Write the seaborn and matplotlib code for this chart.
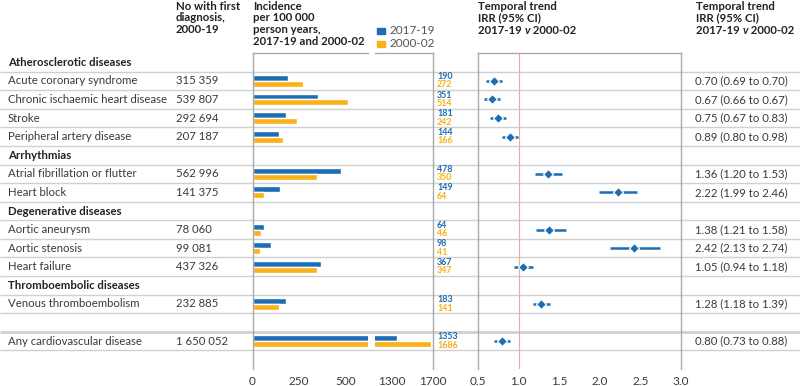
import numpy as np
import pandas as pd
import matplotlib
matplotlib.use("Agg")
import matplotlib.pyplot as plt
from matplotlib.patches import Rectangle
import seaborn as sns

# table rows, top to bottom
row_labels = [
    "Atherosclerotic diseases", "Acute coronary syndrome", "Chronic ischaemic heart disease",
    "Stroke", "Peripheral artery disease", "Arrhythmias", "Atrial fibrillation or flutter",
    "Heart block", "Degenerative diseases", "Aortic aneurysm", "Aortic stenosis",
    "Heart failure", "Thromboembolic diseases", "Venous thromboembolism", "",
    "Any cardiovascular disease",
]
group_rows = ["Atherosclerotic diseases", "Arrhythmias", "Degenerative diseases",
              "Thromboembolic diseases"]
n_first = ["", "315 359", "539 807", "292 694", "207 187", "", "562 996", "141 375", "",
           "78 060", "99 081", "437 326", "", "232 885", "", "1 650 052"]

diseases = ["Acute coronary syndrome", "Chronic ischaemic heart disease", "Stroke",
            "Peripheral artery disease", "Atrial fibrillation or flutter", "Heart block",
            "Aortic aneurysm", "Aortic stenosis", "Heart failure",
            "Venous thromboembolism", "Any cardiovascular disease"]
periods = ["2017-19", "2000-02"]
inc_2017 = [190, 351, 181, 144, 478, 149, 64, 98, 367, 183, 1353]
inc_2000 = [272, 514, 242, 166, 350, 64, 46, 41, 347, 141, 1686]
irr = [0.70, 0.67, 0.75, 0.89, 1.36, 2.22, 1.38, 2.42, 1.05, 1.28, 0.80]
irr_lo = [0.69, 0.66, 0.67, 0.80, 1.20, 1.99, 1.21, 2.13, 0.94, 1.18, 0.73]
irr_hi = [0.70, 0.67, 0.83, 0.98, 1.53, 2.46, 1.58, 2.74, 1.18, 1.39, 0.88]

BLUE = "#1c6db3"
ORANGE = "#fbb017"
GRID = "#d0d0d0"
SPINE = "#a9a9a9"
TXT = "#3a3a3a"

sns.set_theme(style="white")
plt.rcParams["font.family"] = ["Lato", "DejaVu Sans"]

W, H = 800, 386
TOP, BOT = 53, 369
n_rows = len(row_labels) + 1  # one blank row under the table
fig = plt.figure(figsize=(W / 100, H / 100), dpi=100)


def px_axes(x0, x1):
    return fig.add_axes([x0 / W, 1 - BOT / H, (x1 - x0) / W, (BOT - TOP) / H])


row_pos = [row_labels.index(d) for d in diseases]

# background: row lines, labels, numbers
bg = px_axes(0, W)
bg.set_xlim(0, W)
bg.set_ylim(n_rows - 0.5, -0.5)
bg.axis("off")
edges = np.arange(len(row_labels)) + 0.5
bg.hlines(edges, 0, W, color=GRID, lw=[2 if e == 14.5 else 1 for e in edges])
for i, lab in enumerate(row_labels):
    bold = lab in group_rows
    bg.text(8, i, lab, va="center", fontsize=8.2, color="#222222" if bold else TXT,
            fontweight="bold" if bold else "normal")
    bg.text(176, i, n_first[i], va="center", fontsize=8.2, color=TXT)
for k, r in enumerate(row_pos):
    bg.text(437, r - 0.24, str(inc_2017[k]), va="center", fontsize=6.4,
            fontweight="bold", color=BLUE)
    bg.text(437, r + 0.22, str(inc_2000[k]), va="center", fontsize=6.4,
            fontweight="bold", color=ORANGE)
    bg.text(695, r, f"{irr[k]:.2f} ({irr_lo[k]:.2f} to {irr_hi[k]:.2f})", va="center",
            fontsize=8.2, color=TXT)

# incidence bars, broken axis
df = pd.DataFrame({
    "row": [f"r{r}" for r in row_pos] * 2,
    "period": [periods[0]] * len(diseases) + [periods[1]] * len(diseases),
    "incidence": inc_2017 + inc_2000,
})
order = [f"r{i}" for i in range(n_rows)]

ax1 = px_axes(252.5, 367.5)
ax2 = px_axes(375, 432.5)
for ax, lim, ticks in [(ax1, (0, 620), [0, 250, 500]), (ax2, (1130, 1700), [1300, 1700])]:
    sns.barplot(data=df, x="incidence", y="row", hue="period", order=order,
                hue_order=periods, palette=[BLUE, ORANGE], orient="h", width=0.64,
                saturation=1, errorbar=None, legend=False, ax=ax)
    ax.set_xlim(*lim)
    ax.set_xticks(ticks)
    ax.set_ylim(n_rows - 0.5, -0.5)
    ax.set_yticks([])
    ax.set_xlabel("")
    ax.set_ylabel("")
    ax.set_facecolor("none")
    ax.tick_params(axis="x", length=0, pad=5, labelsize=8.5, labelcolor=TXT)
    for s in ax.spines.values():
        s.set_color(SPINE)
        s.set_linewidth(1)
    ax.spines["bottom"].set_visible(False)
ax1.spines["right"].set_visible(False)
ax2.spines["left"].set_visible(False)

# forest plot
ax3 = px_axes(478, 681)
ax3.set_facecolor("none")
ax3.axvline(1.0, color="#f2a3a3", lw=0.8, zorder=1)
whisk = 0.1  # shortest drawn whisker, as in the original layout
lo_draw = np.minimum(irr_lo, np.array(irr) - whisk)
hi_draw = np.maximum(irr_hi, np.array(irr) + whisk)
ax3.hlines(row_pos, lo_draw, hi_draw, color=BLUE, lw=1.8, zorder=2)
sns.scatterplot(x=irr, y=row_pos, marker="D", s=26, color=BLUE, edgecolor="white",
                linewidth=0.9, zorder=3, ax=ax3, legend=False)
ax3.set_xlim(0.5, 3.0)
ax3.set_xticks([0.5, 1.0, 1.5, 2.0, 2.5, 3.0])
ax3.set_xticklabels([f"{t:.1f}" for t in ax3.get_xticks()])
ax3.set_ylim(n_rows - 0.5, -0.5)
ax3.set_yticks([])
ax3.tick_params(axis="x", length=0, pad=5, labelsize=8.5, labelcolor=TXT)
for s in ax3.spines.values():
    s.set_color(SPINE)
    s.set_linewidth(1)
ax3.spines["bottom"].set_visible(False)

# headers
hdr = dict(fontsize=8.2, fontweight="bold", color="#222222", va="top", linespacing=1.1)
fig.text(176 / W, 1 - 0.5 / H, "No with first\ndiagnosis,\n2000-19", **hdr)
fig.text(253 / W, 1 - 0.5 / H, "Incidence\nper 100 000\nperson years,\n2017-19 and 2000-02",
         **hdr)
for x in (478, 696):
    fig.text(x / W, 1 - 0.5 / H, "Temporal trend\nIRR (95% CI)", **hdr)
    t1 = fig.text(x / W, 1 - 25.2 / H, "2017-19 ", **hdr)
    t2 = bg.annotate("v", xy=(1, 0), xycoords=t1, va="bottom", fontsize=8.2,
                     fontweight="bold", fontstyle="italic", color="#222222",
                     annotation_clip=False)
    bg.annotate(" 2000-02", xy=(1, 0), xycoords=t2, va="bottom", fontsize=8.2,
                fontweight="bold", color="#222222", annotation_clip=False)

# legend
for (y, col, lab) in [(27.5, BLUE, periods[0]), (40.5, ORANGE, periods[1])]:
    fig.add_artist(Rectangle((377 / W, 1 - (y + 6.5) / H), 8 / W, 6.5 / H,
                             transform=fig.transFigure, color=col))
    fig.text(389 / W, 1 - (y + 3.3) / H, lab, va="center", fontsize=8.5, color="#555555")

fig.savefig("out.png", dpi=100)
